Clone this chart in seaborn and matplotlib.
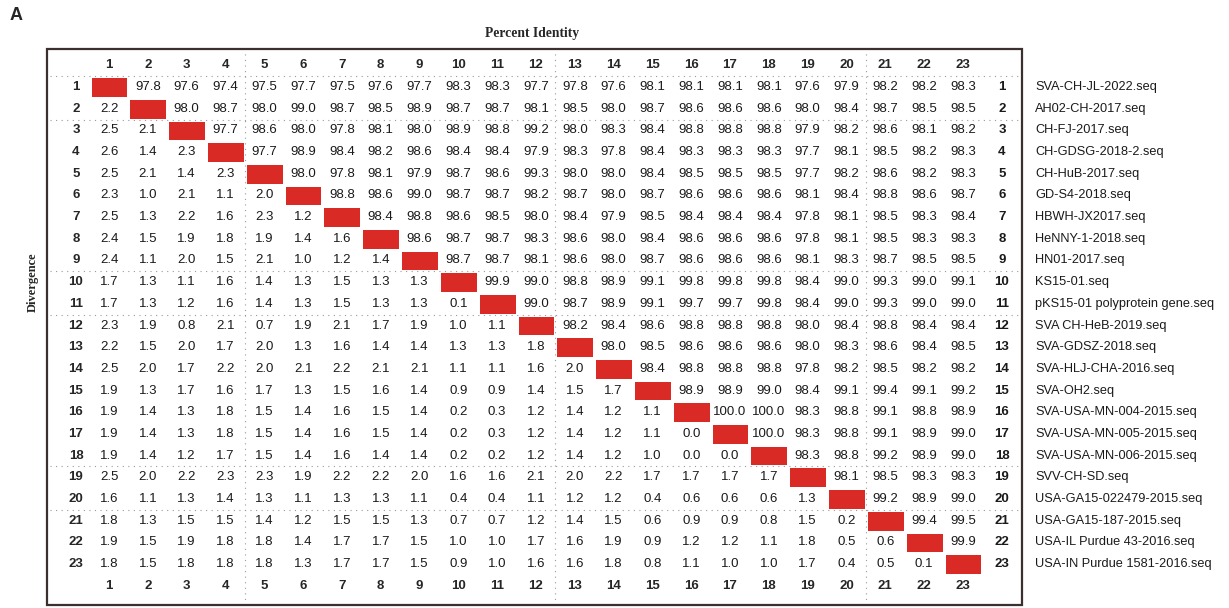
import numpy as np
import pandas as pd
import matplotlib
matplotlib.use("Agg")
import matplotlib.pyplot as plt
from matplotlib.colors import ListedColormap
from matplotlib.patches import Rectangle
import seaborn as sns

names = ["SVA-CH-JL-2022.seq", "AH02-CH-2017.seq", "CH-FJ-2017.seq", "CH-GDSG-2018-2.seq",
         "CH-HuB-2017.seq", "GD-S4-2018.seq", "HBWH-JX2017.seq", "HeNNY-1-2018.seq",
         "HN01-2017.seq", "KS15-01.seq", "pKS15-01 polyprotein gene.seq", "SVA CH-HeB-2019.seq",
         "SVA-GDSZ-2018.seq", "SVA-HLJ-CHA-2016.seq", "SVA-OH2.seq", "SVA-USA-MN-004-2015.seq",
         "SVA-USA-MN-005-2015.seq", "SVA-USA-MN-006-2015.seq", "SVV-CH-SD.seq",
         "USA-GA15-022479-2015.seq", "USA-GA15-187-2015.seq", "USA-IL Purdue 43-2016.seq",
         "USA-IN Purdue 1581-2016.seq"]

# percent identity, upper triangle (row i, columns i+1..23)
identity = [
    [97.8, 97.6, 97.4, 97.5, 97.7, 97.5, 97.6, 97.7, 98.3, 98.3, 97.7, 97.8, 97.6, 98.1, 98.1, 98.1, 98.1, 97.6, 97.9, 98.2, 98.2, 98.3],
    [98.0, 98.7, 98.0, 99.0, 98.7, 98.5, 98.9, 98.7, 98.7, 98.1, 98.5, 98.0, 98.7, 98.6, 98.6, 98.6, 98.0, 98.4, 98.7, 98.5, 98.5],
    [97.7, 98.6, 98.0, 97.8, 98.1, 98.0, 98.9, 98.8, 99.2, 98.0, 98.3, 98.4, 98.8, 98.8, 98.8, 97.9, 98.2, 98.6, 98.1, 98.2],
    [97.7, 98.9, 98.4, 98.2, 98.6, 98.4, 98.4, 97.9, 98.3, 97.8, 98.4, 98.3, 98.3, 98.3, 97.7, 98.1, 98.5, 98.2, 98.3],
    [98.0, 97.8, 98.1, 97.9, 98.7, 98.6, 99.3, 98.0, 98.0, 98.4, 98.5, 98.5, 98.5, 97.7, 98.2, 98.6, 98.2, 98.3],
    [98.8, 98.6, 99.0, 98.7, 98.7, 98.2, 98.7, 98.0, 98.7, 98.6, 98.6, 98.6, 98.1, 98.4, 98.8, 98.6, 98.7],
    [98.4, 98.8, 98.6, 98.5, 98.0, 98.4, 97.9, 98.5, 98.4, 98.4, 98.4, 97.8, 98.1, 98.5, 98.3, 98.4],
    [98.6, 98.7, 98.7, 98.3, 98.6, 98.0, 98.4, 98.6, 98.6, 98.6, 97.8, 98.1, 98.5, 98.3, 98.3],
    [98.7, 98.7, 98.1, 98.6, 98.0, 98.7, 98.6, 98.6, 98.6, 98.1, 98.3, 98.7, 98.5, 98.5],
    [99.9, 99.0, 98.8, 98.9, 99.1, 99.8, 99.8, 99.8, 98.4, 99.0, 99.3, 99.0, 99.1],
    [99.0, 98.7, 98.9, 99.1, 99.7, 99.7, 99.8, 98.4, 99.0, 99.3, 99.0, 99.0],
    [98.2, 98.4, 98.6, 98.8, 98.8, 98.8, 98.0, 98.4, 98.8, 98.4, 98.4],
    [98.0, 98.5, 98.6, 98.6, 98.6, 98.0, 98.3, 98.6, 98.4, 98.5],
    [98.4, 98.8, 98.8, 98.8, 97.8, 98.2, 98.5, 98.2, 98.2],
    [98.9, 98.9, 99.0, 98.4, 99.1, 99.4, 99.1, 99.2],
    [100.0, 100.0, 98.3, 98.8, 99.1, 98.8, 98.9],
    [100.0, 98.3, 98.8, 99.1, 98.9, 99.0],
    [98.3, 98.8, 99.2, 98.9, 99.0],
    [98.1, 98.5, 98.3, 98.3],
    [99.2, 98.9, 99.0],
    [99.4, 99.5],
    [99.9],
    [],
]

# divergence, lower triangle (row i, columns 1..i-1)
divergence = [
    [],
    [2.2],
    [2.5, 2.1],
    [2.6, 1.4, 2.3],
    [2.5, 2.1, 1.4, 2.3],
    [2.3, 1.0, 2.1, 1.1, 2.0],
    [2.5, 1.3, 2.2, 1.6, 2.3, 1.2],
    [2.4, 1.5, 1.9, 1.8, 1.9, 1.4, 1.6],
    [2.4, 1.1, 2.0, 1.5, 2.1, 1.0, 1.2, 1.4],
    [1.7, 1.3, 1.1, 1.6, 1.4, 1.3, 1.5, 1.3, 1.3],
    [1.7, 1.3, 1.2, 1.6, 1.4, 1.3, 1.5, 1.3, 1.3, 0.1],
    [2.3, 1.9, 0.8, 2.1, 0.7, 1.9, 2.1, 1.7, 1.9, 1.0, 1.1],
    [2.2, 1.5, 2.0, 1.7, 2.0, 1.3, 1.6, 1.4, 1.4, 1.3, 1.3, 1.8],
    [2.5, 2.0, 1.7, 2.2, 2.0, 2.1, 2.2, 2.1, 2.1, 1.1, 1.1, 1.6, 2.0],
    [1.9, 1.3, 1.7, 1.6, 1.7, 1.3, 1.5, 1.6, 1.4, 0.9, 0.9, 1.4, 1.5, 1.7],
    [1.9, 1.4, 1.3, 1.8, 1.5, 1.4, 1.6, 1.5, 1.4, 0.2, 0.3, 1.2, 1.4, 1.2, 1.1],
    [1.9, 1.4, 1.3, 1.8, 1.5, 1.4, 1.6, 1.5, 1.4, 0.2, 0.3, 1.2, 1.4, 1.2, 1.1, 0.0],
    [1.9, 1.4, 1.2, 1.7, 1.5, 1.4, 1.6, 1.4, 1.4, 0.2, 0.2, 1.2, 1.4, 1.2, 1.0, 0.0, 0.0],
    [2.5, 2.0, 2.2, 2.3, 2.3, 1.9, 2.2, 2.2, 2.0, 1.6, 1.6, 2.1, 2.0, 2.2, 1.7, 1.7, 1.7, 1.7],
    [1.6, 1.1, 1.3, 1.4, 1.3, 1.1, 1.3, 1.3, 1.1, 0.4, 0.4, 1.1, 1.2, 1.2, 0.4, 0.6, 0.6, 0.6, 1.3],
    [1.8, 1.3, 1.5, 1.5, 1.4, 1.2, 1.5, 1.5, 1.3, 0.7, 0.7, 1.2, 1.4, 1.5, 0.6, 0.9, 0.9, 0.8, 1.5, 0.2],
    [1.9, 1.5, 1.9, 1.8, 1.8, 1.4, 1.7, 1.7, 1.5, 1.0, 1.0, 1.7, 1.6, 1.9, 0.9, 1.2, 1.2, 1.1, 1.8, 0.5, 0.6],
    [1.8, 1.5, 1.8, 1.8, 1.8, 1.3, 1.7, 1.7, 1.5, 0.9, 1.0, 1.6, 1.6, 1.8, 0.8, 1.1, 1.0, 1.0, 1.7, 0.4, 0.5, 0.1],
]

n = len(names)
numbers = [str(i + 1) for i in range(n)]

# build the label matrix: divergence below diagonal, identity above, blank on it
labels = np.full((n, n), "", dtype=object)
for i in range(n):
    for j, v in enumerate(divergence[i]):
        labels[i, j] = f"{v:.1f}"
    for k, v in enumerate(identity[i]):
        labels[i, i + 1 + k] = f"{v:.1f}"

diag = pd.DataFrame(np.eye(n), index=numbers, columns=numbers)

sns.set_theme(style="white")
plt.rcParams["font.family"] = ["Liberation Sans", "DejaVu Sans"]

fig = plt.figure(figsize=(12.29, 6.08), dpi=100)
ax = fig.add_axes([0.0729, 0.0545, 0.7264, 0.8202])

red = "#DA2A25"
sns.heatmap(diag, ax=ax, cmap=ListedColormap(["white", red]), cbar=False,
            annot=labels, fmt="", linewidths=2, linecolor="white",
            annot_kws={"fontsize": 9.5, "color": "#1a1a1a"},
            xticklabels=numbers, yticklabels=numbers)

ax.tick_params(axis="x", length=0, labeltop=True, labelbottom=True, pad=3.5,
               labelsize=9.5, rotation=0)
ax.tick_params(axis="y", length=0, labelleft=True, labelright=False, pad=9.8,
               labelsize=9.5, rotation=0)
for t in ax.xaxis.get_major_ticks():
    t.label1.set_fontweight("bold")
    t.label2.set_fontweight("bold")
for t in ax.yaxis.get_major_ticks():
    t.label1.set_fontweight("bold")
    t.label1.set_ha("center")

# row numbers and sequence names on the right
ytrans = ax.get_yaxis_transform()
for i in range(n):
    ax.text(1.022, i + 0.5, numbers[i], transform=ytrans, ha="center", va="center",
            fontsize=9.5, fontweight="bold", color="#1a1a1a", clip_on=False)
    ax.text(1.059, i + 0.5, names[i], transform=ytrans, ha="left", va="center",
            fontsize=9.2, color="#1a1a1a", clip_on=False)

# dotted separators
for y in [0, 2, 9, 11, 18, 20]:
    ax.axhline(y, xmin=-0.044, xmax=1.04, color="#9a9a9a", lw=0.8,
               ls=(0, (1, 4)), clip_on=False, zorder=3)
for x in [4, 12, 20]:
    ax.axvline(x, ymin=-0.06, ymax=1.052, color="#9a9a9a", lw=0.8,
               ls=(0, (1, 4)), clip_on=False, zorder=3)

# outer frame
fig.add_artist(Rectangle((0.0382, 0.0049), 0.7933, 0.9145, transform=fig.transFigure,
                         fill=False, lw=1.6, ec="#3b2f2f"))

fig.text(0.433, 0.9457, "Percent Identity", ha="center", va="center", fontsize=9.8,
         fontweight="bold", family="Liberation Serif")
fig.text(0.0269, 0.536, "Divergence", ha="center", va="center", rotation=90,
         fontsize=9, fontweight="bold", family="Liberation Serif")
fig.text(0.013, 0.974, "A", ha="center", va="center", fontsize=13, fontweight="bold")

fig.savefig("out.png", dpi=100)
